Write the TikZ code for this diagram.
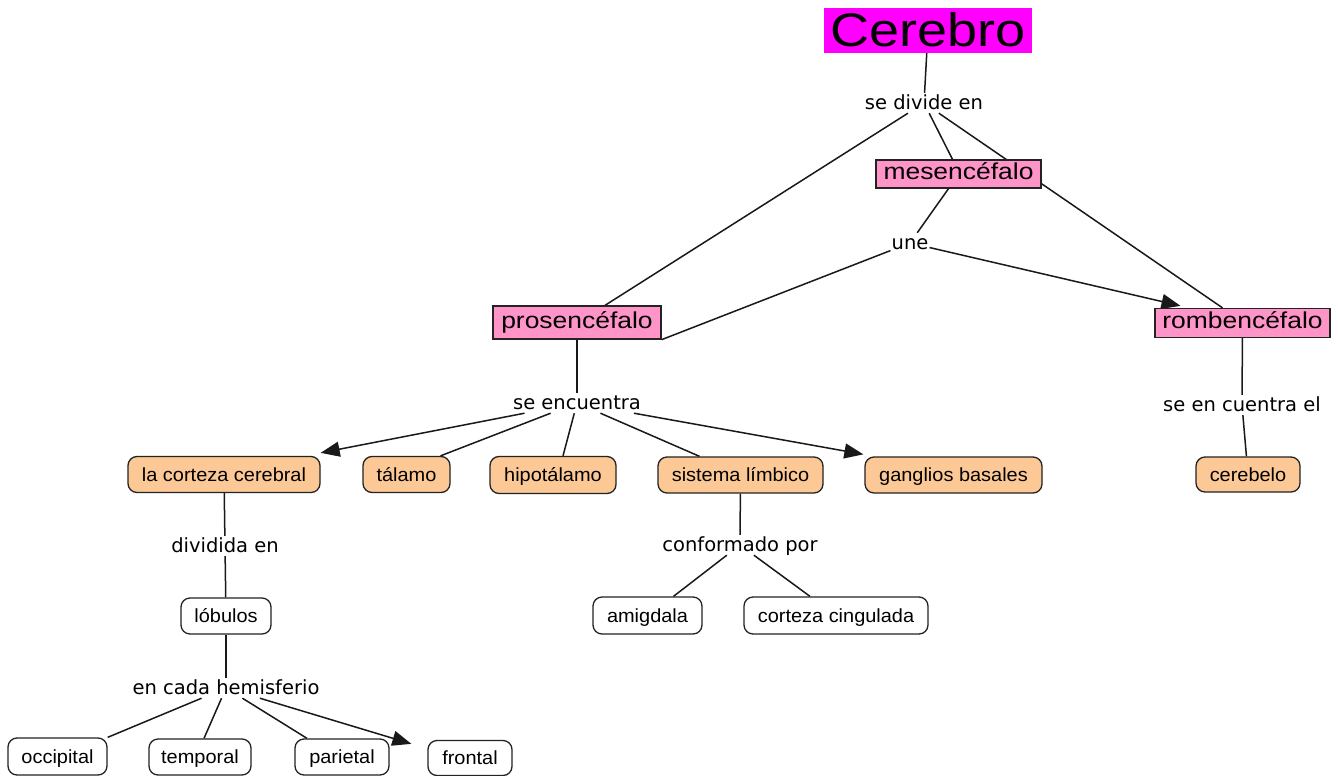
\documentclass[tikz,border=0pt]{standalone}
\usepackage{fontspec}
\setmainfont{Liberation Sans}
\newfontfamily\linkfont{DejaVu Sans}
\newfontfamily\conceptfont[FakeStretch=1.05]{Liberation Sans}
\newfontfamily\bigfont[FakeStretch=1.15]{Liberation Sans}
\usetikzlibrary{arrows.meta,backgrounds}
\definecolor{cmag}{RGB}{255,0,255}
\definecolor{cpink}{RGB}{255,148,200}
\definecolor{corange}{RGB}{252,200,150}
\definecolor{cborder}{RGB}{35,35,35}
\tikzset{
  conceptbox/.style={draw=cborder, line width=1.3pt, rounded corners=9pt, fill=corange,
    inner sep=0pt, font=\conceptfont\fontsize{19}{22}\selectfont,
    text height=15.5pt, text depth=2pt, minimum height=36pt},
  whitebox/.style={conceptbox, fill=white},
  pinkbox/.style={draw=cborder, line width=1.3pt, fill=cpink, inner sep=0pt,
    font=\bigfont\fontsize{23}{26}\selectfont, text height=16.5pt, text depth=4.7pt},
  cerebrobox/.style={fill=cmag, inner sep=0pt,
    font=\bigfont\fontsize{47}{50}\selectfont, text height=33pt, text depth=0pt},
  linklabel/.style={inner sep=1pt, font=\linkfont\fontsize{19.5}{22}\selectfont,
    text height=15pt, text depth=3pt},
  conn/.style={line width=1.5pt, draw=black!90},
  arrowconn/.style={conn, -{Triangle[length=19pt,width=15pt]}}
}
\begin{document}
\begin{tikzpicture}[x=1pt,y=-1pt]
\useasboundingbox (0,0) rectangle (1338,776);

% top level
\node[cerebrobox, minimum width=208pt, minimum height=45pt] (cer) at (928,30.5) {Cerebro};
\node[linklabel] (sde) at (924,103) {se divide en};
\node[pinkbox, minimum width=165pt, minimum height=28pt] (mes) at (958.5,174) {mesencéfalo};
\node[linklabel] (une) at (910,243) {une};
\node[pinkbox, minimum width=168pt, minimum height=33pt] (pros) at (577,322.5) {prosencéfalo};
\node[pinkbox, minimum width=175pt, minimum height=29pt] (romb) at (1242.5,323) {rombencéfalo};

% second level
\node[linklabel] (senc) at (577,403) {se encuentra};
\node[linklabel] (secel) at (1242,405) {se en cuentra el};
\node[conceptbox, minimum width=192pt] (cort) at (224,474.5) {la corteza cerebral};
\node[conceptbox, minimum width=87pt] (tal) at (406.5,474.5) {tálamo};
\node[conceptbox, minimum width=126pt, minimum height=37pt] (hipo) at (553,475) {hipotálamo};
\node[conceptbox, minimum width=165pt] (sist) at (740.5,475) {sistema límbico};
\node[conceptbox, minimum width=177pt] (gang) at (953.5,475) {ganglios basales};
\node[conceptbox, minimum width=104pt, minimum height=35pt] (cereb) at (1248,474.5) {cerebelo};

% third level
\node[linklabel] (div) at (225,546) {dividida en};
\node[whitebox, minimum width=90pt] (lob) at (226,616) {lóbulos};
\node[linklabel] (conf) at (740,545) {conformado por};
\node[whitebox, minimum width=109pt, minimum height=37pt] (amig) at (647.5,615.5) {amigdala};
\node[whitebox, minimum width=184pt, minimum height=37pt] (cing) at (836,615.5) {corteza cingulada};

% fourth level
\node[linklabel] (ech) at (226,688) {en cada hemisferio};
\node[whitebox, minimum width=99pt, minimum height=37pt] (occ) at (57.5,756.5) {occipital};
\node[whitebox, minimum width=102pt] (temp) at (200,757) {temporal};
\node[whitebox, minimum width=94pt] (par) at (342,757) {parietal};
\node[whitebox, minimum width=84pt, minimum height=35pt] (front) at (470,758) {frontal};

\begin{pgfonlayer}{background}
\fill[white] (0,0) rectangle (1338,776);
\draw[conn] (cer) -- (sde);
\draw[conn] (sde) -- ([xshift=28pt]pros.north);
\draw[conn] (sde) -- ([xshift=-6pt]mes.north);
\draw[conn] (sde) -- ([xshift=-20pt]romb.north);
\draw[conn] ([xshift=-10pt]mes.south) -- (une);
\draw[conn] (une) -- (pros.south east);
\draw[arrowconn] (une) -- ([xshift=-62pt,yshift=2pt]romb.north);

\draw[conn] (pros) -- (senc);
\draw[arrowconn] (senc) -- ([yshift=3pt]cort.north east);
\draw[conn] (senc) -- ([xshift=34pt]tal.north);
\draw[conn] (senc) -- ([xshift=10pt]hipo.north);
\draw[conn] (senc) -- ([xshift=-41pt]sist.north);
\draw[arrowconn] (senc) -- ([xshift=-1pt,yshift=2pt]gang.north west);

\draw[conn] (romb) -- (secel);
\draw[conn] (secel) -- (cereb);

\draw[conn] (cort) -- (div);
\draw[conn] (div) -- (lob);
\draw[conn] (lob) -- (ech);
\draw[conn] (ech) -- (occ.north east);
\draw[conn] (ech) -- ([xshift=4pt]temp.north);
\draw[conn] (ech) -- ([xshift=-35pt]par.north);
\draw[arrowconn] (ech) -- ([xshift=-16pt,yshift=-4pt]front.north west);

\draw[conn] (sist) -- (conf);
\draw[conn] (conf) -- ([xshift=26pt]amig.north);
\draw[conn] (conf) -- ([xshift=-26pt]cing.north);
\end{pgfonlayer}
\end{tikzpicture}
\end{document}
